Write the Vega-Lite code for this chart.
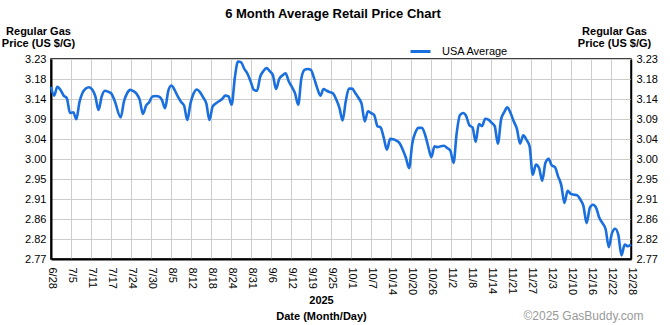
{
  "$schema": "https://vega.github.io/schema/vega-lite/v6.json",
  "width": 580,
  "height": 200,
  "autosize": {"type": "none"},
  "padding": {"left": 51, "top": 59, "right": 39, "bottom": 66},
  "background": "#ffffff",
  "title": {
    "text": "6 Month Average Retail Price Chart",
    "font": "Liberation Sans",
    "fontSize": 13,
    "fontWeight": "bold",
    "color": "#000000",
    "anchor": "middle",
    "frame": "group",
    "dx": -8,
    "offset": 4
  },
  "config": {
    "font": "Liberation Sans",
    "view": {"stroke": "#000000", "strokeWidth": 1.5},
    "axis": {
      "labelFont": "Liberation Sans",
      "labelFontSize": 11,
      "labelColor": "#000000",
      "titleFont": "Liberation Sans",
      "titleFontSize": 11,
      "titleFontWeight": "bold",
      "titleColor": "#000000",
      "ticks": false,
      "domainColor": "#000000",
      "domainWidth": 2,
      "gridColor": "#cccccc",
      "gridWidth": 1,
      "gridOpacity": 1,
      "labelOverlap": false,
      "labelFlush": false,
      "labelBound": false
    }
  },
  "data": {
    "values": [
      {"date": "2025-06-28", "price": 3.164}, {"date": "2025-06-29", "price": 3.144}, {"date": "2025-06-30", "price": 3.164},
      {"date": "2025-07-01", "price": 3.157}, {"date": "2025-07-02", "price": 3.144}, {"date": "2025-07-03", "price": 3.138},
      {"date": "2025-07-04", "price": 3.104}, {"date": "2025-07-05", "price": 3.106}, {"date": "2025-07-06", "price": 3.090},
      {"date": "2025-07-07", "price": 3.130}, {"date": "2025-07-08", "price": 3.151}, {"date": "2025-07-09", "price": 3.160},
      {"date": "2025-07-10", "price": 3.163}, {"date": "2025-07-11", "price": 3.158}, {"date": "2025-07-12", "price": 3.142},
      {"date": "2025-07-13", "price": 3.111}, {"date": "2025-07-14", "price": 3.142}, {"date": "2025-07-15", "price": 3.155},
      {"date": "2025-07-16", "price": 3.153}, {"date": "2025-07-17", "price": 3.149}, {"date": "2025-07-18", "price": 3.134},
      {"date": "2025-07-20", "price": 3.094}, {"date": "2025-07-21", "price": 3.130}, {"date": "2025-07-22", "price": 3.149},
      {"date": "2025-07-23", "price": 3.157}, {"date": "2025-07-24", "price": 3.154}, {"date": "2025-07-25", "price": 3.148},
      {"date": "2025-07-26", "price": 3.134}, {"date": "2025-07-27", "price": 3.102}, {"date": "2025-07-28", "price": 3.121},
      {"date": "2025-07-29", "price": 3.129}, {"date": "2025-07-30", "price": 3.142}, {"date": "2025-07-31", "price": 3.143},
      {"date": "2025-08-01", "price": 3.142}, {"date": "2025-08-02", "price": 3.134}, {"date": "2025-08-03", "price": 3.115},
      {"date": "2025-08-04", "price": 3.155}, {"date": "2025-08-05", "price": 3.167}, {"date": "2025-08-06", "price": 3.157},
      {"date": "2025-08-07", "price": 3.142}, {"date": "2025-08-08", "price": 3.130}, {"date": "2025-08-09", "price": 3.121},
      {"date": "2025-08-10", "price": 3.088}, {"date": "2025-08-11", "price": 3.126}, {"date": "2025-08-12", "price": 3.149},
      {"date": "2025-08-13", "price": 3.158}, {"date": "2025-08-14", "price": 3.152}, {"date": "2025-08-15", "price": 3.140},
      {"date": "2025-08-16", "price": 3.126}, {"date": "2025-08-17", "price": 3.088}, {"date": "2025-08-18", "price": 3.119},
      {"date": "2025-08-19", "price": 3.126}, {"date": "2025-08-20", "price": 3.131}, {"date": "2025-08-21", "price": 3.136},
      {"date": "2025-08-22", "price": 3.144}, {"date": "2025-08-23", "price": 3.142}, {"date": "2025-08-24", "price": 3.123},
      {"date": "2025-08-25", "price": 3.185}, {"date": "2025-08-26", "price": 3.222}, {"date": "2025-08-27", "price": 3.220},
      {"date": "2025-08-28", "price": 3.205}, {"date": "2025-08-29", "price": 3.194}, {"date": "2025-08-30", "price": 3.176},
      {"date": "2025-08-31", "price": 3.157}, {"date": "2025-09-01", "price": 3.155}, {"date": "2025-09-02", "price": 3.187},
      {"date": "2025-09-03", "price": 3.200}, {"date": "2025-09-04", "price": 3.207}, {"date": "2025-09-05", "price": 3.200},
      {"date": "2025-09-06", "price": 3.191}, {"date": "2025-09-07", "price": 3.159}, {"date": "2025-09-08", "price": 3.182},
      {"date": "2025-09-09", "price": 3.190}, {"date": "2025-09-10", "price": 3.195}, {"date": "2025-09-11", "price": 3.177},
      {"date": "2025-09-12", "price": 3.164}, {"date": "2025-09-13", "price": 3.149}, {"date": "2025-09-14", "price": 3.123},
      {"date": "2025-09-15", "price": 3.184}, {"date": "2025-09-16", "price": 3.203}, {"date": "2025-09-17", "price": 3.205},
      {"date": "2025-09-18", "price": 3.203}, {"date": "2025-09-19", "price": 3.184}, {"date": "2025-09-20", "price": 3.161},
      {"date": "2025-09-21", "price": 3.144}, {"date": "2025-09-22", "price": 3.159}, {"date": "2025-09-23", "price": 3.155},
      {"date": "2025-09-24", "price": 3.152}, {"date": "2025-09-25", "price": 3.149}, {"date": "2025-09-26", "price": 3.135},
      {"date": "2025-09-27", "price": 3.116}, {"date": "2025-09-28", "price": 3.087}, {"date": "2025-09-29", "price": 3.131},
      {"date": "2025-09-30", "price": 3.160}, {"date": "2025-10-01", "price": 3.160}, {"date": "2025-10-02", "price": 3.150},
      {"date": "2025-10-03", "price": 3.139}, {"date": "2025-10-04", "price": 3.125}, {"date": "2025-10-05", "price": 3.085},
      {"date": "2025-10-06", "price": 3.108}, {"date": "2025-10-07", "price": 3.104}, {"date": "2025-10-08", "price": 3.099},
      {"date": "2025-10-09", "price": 3.074}, {"date": "2025-10-10", "price": 3.071}, {"date": "2025-10-11", "price": 3.047},
      {"date": "2025-10-12", "price": 3.020}, {"date": "2025-10-13", "price": 3.045}, {"date": "2025-10-14", "price": 3.044},
      {"date": "2025-10-15", "price": 3.041}, {"date": "2025-10-16", "price": 3.035}, {"date": "2025-10-17", "price": 3.020},
      {"date": "2025-10-18", "price": 3.001}, {"date": "2025-10-19", "price": 2.978}, {"date": "2025-10-20", "price": 3.035},
      {"date": "2025-10-21", "price": 3.060}, {"date": "2025-10-22", "price": 3.070}, {"date": "2025-10-23", "price": 3.070},
      {"date": "2025-10-24", "price": 3.055}, {"date": "2025-10-25", "price": 3.028}, {"date": "2025-10-26", "price": 3.003},
      {"date": "2025-10-27", "price": 3.028}, {"date": "2025-10-28", "price": 3.026}, {"date": "2025-10-29", "price": 3.028},
      {"date": "2025-10-30", "price": 3.029}, {"date": "2025-10-31", "price": 3.024}, {"date": "2025-11-01", "price": 3.018},
      {"date": "2025-11-02", "price": 2.990}, {"date": "2025-11-03", "price": 3.058}, {"date": "2025-11-04", "price": 3.099},
      {"date": "2025-11-05", "price": 3.104}, {"date": "2025-11-06", "price": 3.097}, {"date": "2025-11-07", "price": 3.076},
      {"date": "2025-11-08", "price": 3.071}, {"date": "2025-11-09", "price": 3.038}, {"date": "2025-11-10", "price": 3.079},
      {"date": "2025-11-11", "price": 3.074}, {"date": "2025-11-12", "price": 3.091}, {"date": "2025-11-13", "price": 3.089},
      {"date": "2025-11-14", "price": 3.082}, {"date": "2025-11-15", "price": 3.074}, {"date": "2025-11-16", "price": 3.034},
      {"date": "2025-11-17", "price": 3.089}, {"date": "2025-11-18", "price": 3.106}, {"date": "2025-11-19", "price": 3.117},
      {"date": "2025-11-20", "price": 3.104}, {"date": "2025-11-21", "price": 3.085}, {"date": "2025-11-22", "price": 3.068},
      {"date": "2025-11-23", "price": 3.034}, {"date": "2025-11-24", "price": 3.053}, {"date": "2025-11-25", "price": 3.043},
      {"date": "2025-11-26", "price": 3.028}, {"date": "2025-11-27", "price": 2.963}, {"date": "2025-11-28", "price": 2.986},
      {"date": "2025-11-29", "price": 2.978}, {"date": "2025-11-30", "price": 2.949}, {"date": "2025-12-01", "price": 2.990},
      {"date": "2025-12-02", "price": 2.999}, {"date": "2025-12-03", "price": 2.984}, {"date": "2025-12-04", "price": 2.980},
      {"date": "2025-12-05", "price": 2.959}, {"date": "2025-12-06", "price": 2.939}, {"date": "2025-12-07", "price": 2.898},
      {"date": "2025-12-08", "price": 2.926}, {"date": "2025-12-09", "price": 2.919}, {"date": "2025-12-10", "price": 2.917},
      {"date": "2025-12-11", "price": 2.916}, {"date": "2025-12-12", "price": 2.906}, {"date": "2025-12-13", "price": 2.891},
      {"date": "2025-12-14", "price": 2.852}, {"date": "2025-12-15", "price": 2.887}, {"date": "2025-12-16", "price": 2.894},
      {"date": "2025-12-17", "price": 2.887}, {"date": "2025-12-18", "price": 2.864}, {"date": "2025-12-19", "price": 2.852},
      {"date": "2025-12-20", "price": 2.838}, {"date": "2025-12-21", "price": 2.797}, {"date": "2025-12-22", "price": 2.829},
      {"date": "2025-12-23", "price": 2.839}, {"date": "2025-12-24", "price": 2.825}, {"date": "2025-12-25", "price": 2.778},
      {"date": "2025-12-26", "price": 2.803}, {"date": "2025-12-27", "price": 2.799}, {"date": "2025-12-28", "price": 2.803}
    ]
  },
  "layer": [
    {
      "mark": {"type": "line", "strokeWidth": 2.6, "interpolate": "monotone"},
      "encoding": {
        "x": {
          "field": "date",
          "type": "temporal",
          "scale": {"type": "utc", "domain": [1751068800000, 1766880000000], "nice": false},
          "axis": {
            "orient": "bottom",
            "values": [1751068800000, 1751614013793, 1752159227586, 1752704441379, 1753249655172, 1753794868966, 1754340082759, 1754885296552, 1755430510345, 1755975724138, 1756520937931, 1757066151724, 1757611365517, 1758156579310, 1758701793103, 1759247006897, 1759792220690, 1760337434483, 1760882648276, 1761427862069, 1761973075862, 1762518289655, 1763063503448, 1763608717241, 1764153931034, 1764699144828, 1765244358621, 1765789572414, 1766334786207, 1766880000000],
            "labelExpr": "utcFormat(toNumber(datum.value) + 86399999, '%-m/%-d')",
            "labelAngle": 90,
            "labelAlign": "left",
            "labelBaseline": "middle",
            "labelPadding": 8,
            "grid": true,
            "title": ["2025", "Date (Month/Day)"],
            "titleAngle": 0,
            "titleAlign": "center",
            "titleBaseline": "top",
            "titleLineHeight": 16,
            "titleX": 270,
            "titleY": 35
          }
        },
        "y": {
          "field": "price",
          "type": "quantitative",
          "scale": {"domain": [2.7698, 3.2278], "nice": false, "zero": false},
          "axis": {
            "orient": "left",
            "values": [2.7698, 2.8156, 2.8614, 2.9072, 2.953, 2.9988, 3.0446, 3.0904, 3.1362, 3.182, 3.2278],
            "format": ".2f",
            "labelPadding": 5,
            "grid": true,
            "title": ["Regular Gas", "Price (US $/G)"],
            "titleAngle": 0,
            "titleAlign": "center",
            "titleBaseline": "top",
            "titleLineHeight": 12.5,
            "titleX": -13,
            "titleY": -34
          }
        },
        "color": {
          "datum": "USA Average",
          "type": "nominal",
          "scale": {"range": ["#1a6fdf"]},
          "legend": {
            "title": null,
            "orient": "none",
            "legendX": 358,
            "legendY": -19,
            "symbolType": "stroke",
            "symbolSize": 400,
            "symbolStrokeWidth": 3,
            "labelFont": "Liberation Sans",
            "labelFontSize": 11,
            "labelColor": "#000000",
            "labelOffset": 10
          }
        }
      }
    },
    {
      "mark": {"type": "line", "strokeOpacity": 0},
      "encoding": {
        "x": {
          "field": "date",
          "type": "temporal",
          "axis": {
            "orient": "bottom",
            "labels": false,
            "domain": false,
            "grid": false,
            "title": "©2025 GasBuddy.com",
            "titleFontSize": 12,
            "titleFontWeight": "normal",
            "titleColor": "#999999",
            "titleAngle": 0,
            "titleAlign": "center",
            "titleBaseline": "top",
            "titleX": 532,
            "titleY": 51
          }
        },
        "y": {
          "field": "price",
          "type": "quantitative",
          "axis": {
            "orient": "right",
            "values": [2.7698, 2.8156, 2.8614, 2.9072, 2.953, 2.9988, 3.0446, 3.0904, 3.1362, 3.182, 3.2278],
            "format": ".2f",
            "labelPadding": 5,
            "domainWidth": 1.5,
            "grid": false,
            "title": ["Regular Gas", "Price (US $/G)"],
            "titleAngle": 0,
            "titleAlign": "center",
            "titleBaseline": "top",
            "titleLineHeight": 12.5,
            "titleX": -17,
            "titleY": -34
          }
        }
      }
    }
  ],
  "resolve": {"scale": {"x": "shared", "y": "shared"}, "axis": {"x": "independent", "y": "independent"}}
}
